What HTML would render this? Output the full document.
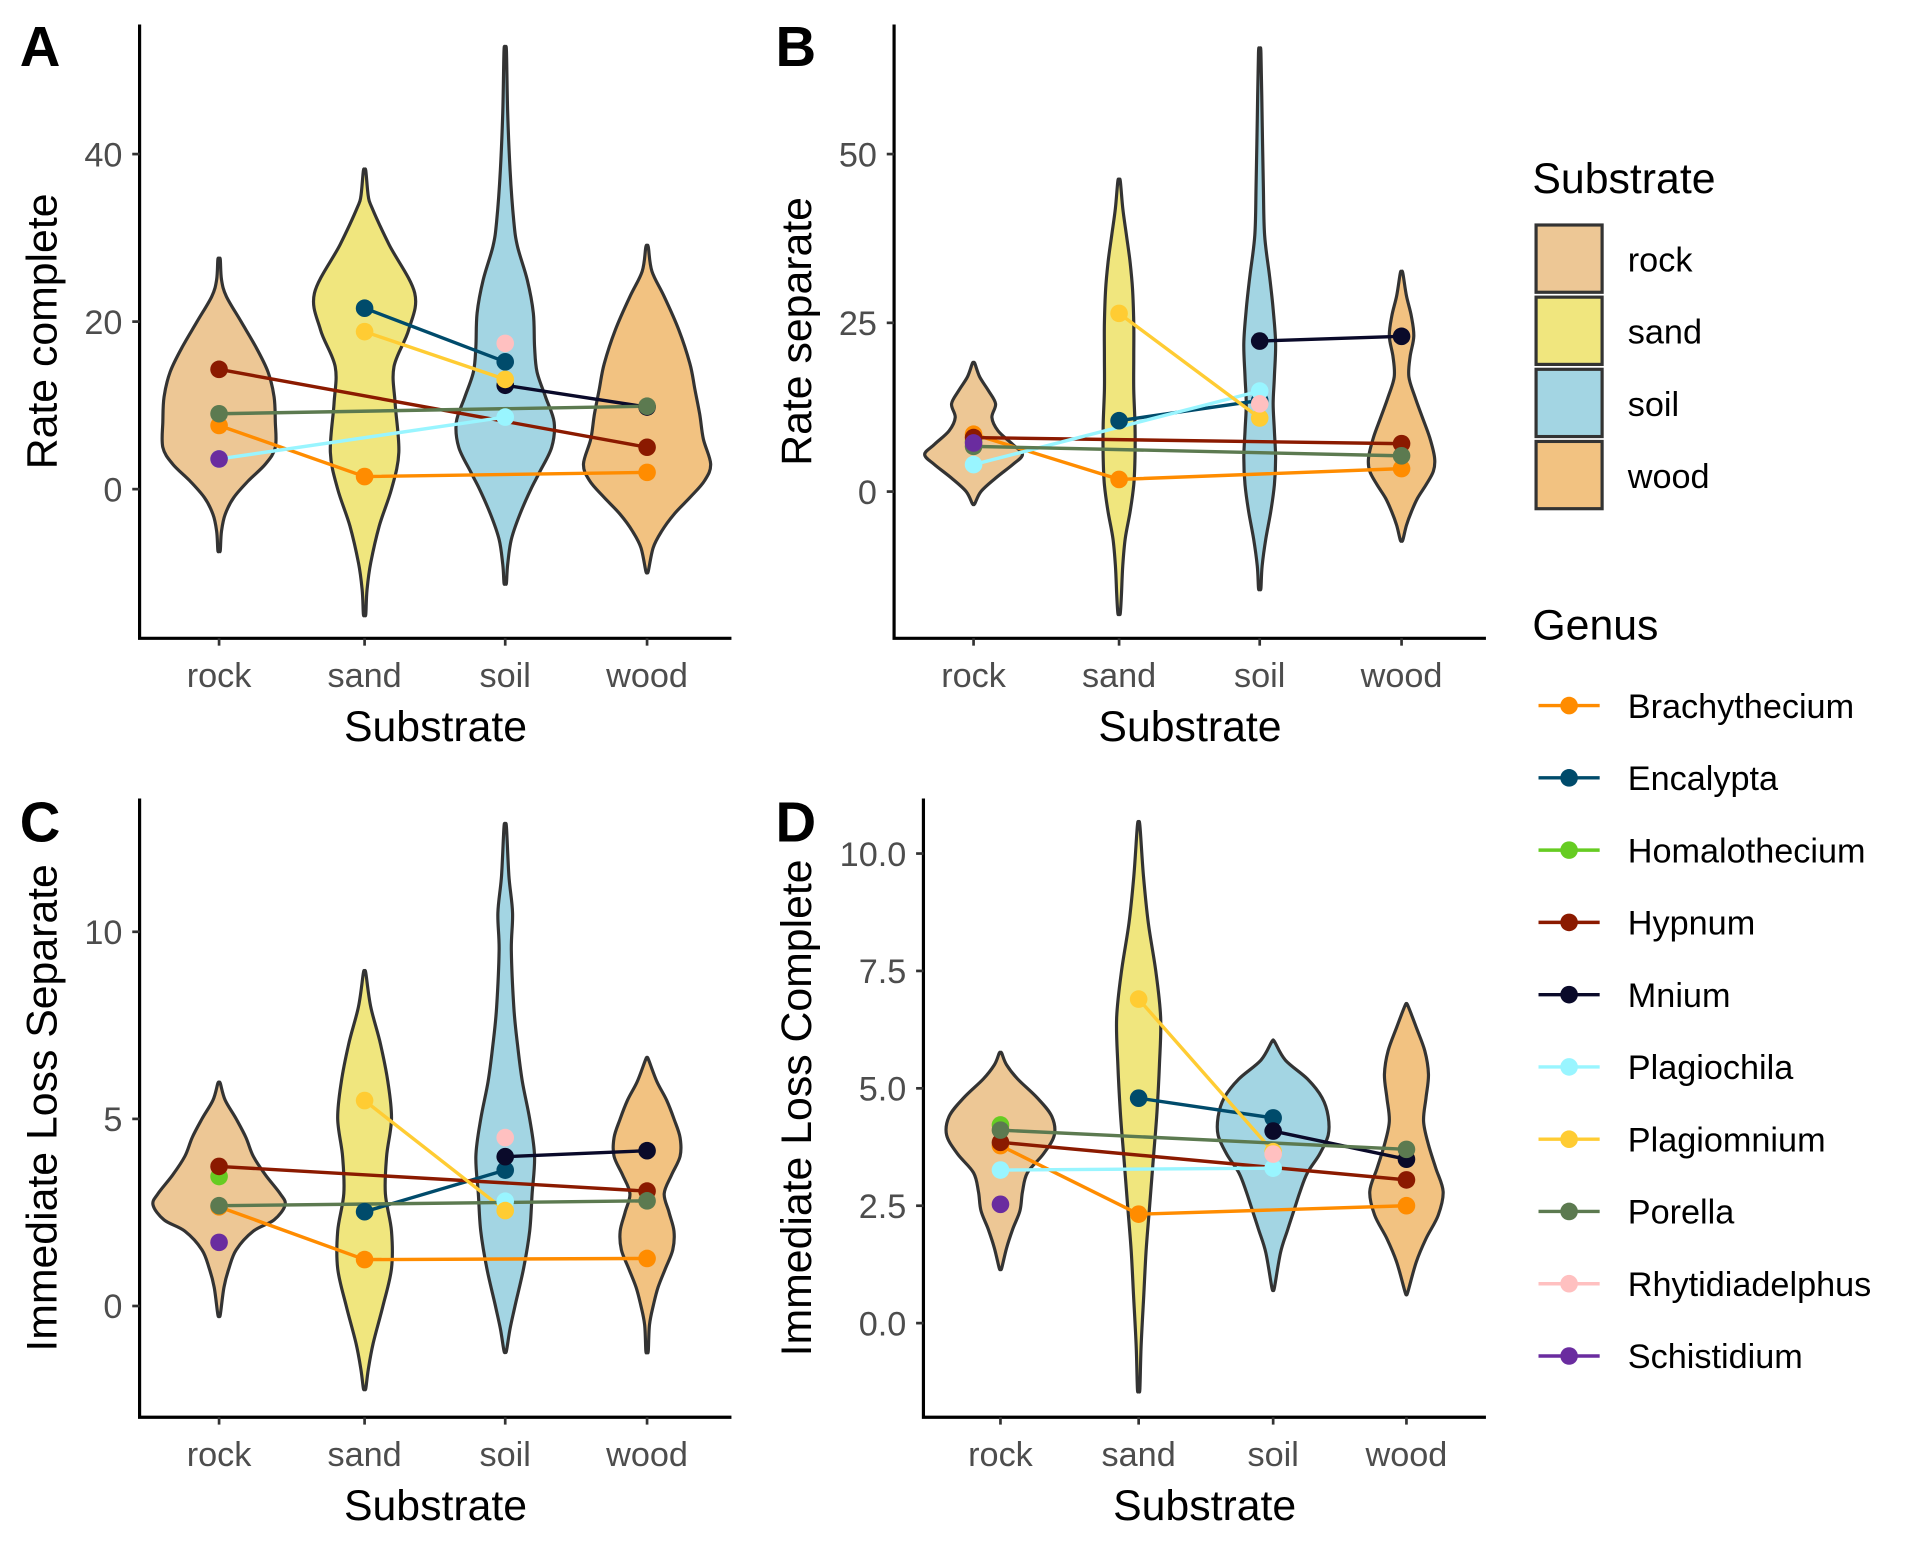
<!DOCTYPE html>
<html><head><meta charset="utf-8"><style>
html,body{margin:0;padding:0;background:#fff}
svg{display:block;font-family:"Liberation Sans",sans-serif}
</style></head><body>
<svg id="fig" width="1908" height="1542" viewBox="0 0 1560 1261" xmlns="http://www.w3.org/2000/svg">
<rect width="1560" height="1261" fill="#fff"/>
<g id="legend"></g>
</svg>
<script>
const substrates = ["rock","sand","soil","wood"];
const genera = ["Brachythecium","Encalypta","Homalothecium","Hypnum","Mnium","Plagiochila","Plagiomnium","Porella","Rhytidiadelphus","Schistidium"];
const genusColors = ["#FF8C00","#004B6B","#66CC22","#8B1A00","#0A0A2A","#99F5FF","#FFCC33","#5C7A50","#FFC0C0","#6A2C9F"];
const substrateFills = ["#EDC795","#F0E67E","#A3D5E3","#F2C281"];

// values per genus [rock, sand, soil, wood]
const rateComplete = [[7.6,1.5,null,2.0],[null,21.6,15.2,null],[null,null,null,null],[14.3,null,null,5.0],[null,null,12.4,9.8],[3.6,null,8.6,null],[null,18.8,13.1,null],[9.0,null,null,9.9],[null,null,17.4,null],[3.6,null,null,null]];
const rateSeparate = [[8.5,1.8,null,3.4],[null,10.5,13.5,null],[7.5,null,null,null],[8.0,null,null,7.1],[null,null,22.3,23.0],[4.0,null,14.9,null],[null,26.4,10.9,null],[6.7,null,null,5.3],[null,null,13.0,null],[7.2,null,null,null]];
const lossSeparate = [[2.65,1.24,null,1.27],[null,2.52,3.63,null],[3.46,null,null,null],[3.73,null,null,3.07],[null,null,3.99,4.15],[null,null,2.8,null],[null,5.49,2.55,null],[2.68,null,null,2.81],[null,null,4.5,null],[1.7,null,null,null]];
const lossComplete = [[3.78,2.32,null,2.5],[null,4.79,4.37,null],[4.22,null,null,null],[3.85,null,null,3.05],[null,null,4.09,3.49],[3.26,null,3.3,null],[null,6.9,3.65,null],[4.11,null,null,3.7],[null,null,3.6,null],[2.53,null,null,null]];

// violin density profiles [value, relative half width]
const violinsA = [
 [[27.4,1],[25,2],[23,6],[20,18],[17,30],[14,40],[11,45],[8,46],[5,46],[3,38],[1,24],[-1,12],[-3,5],[-5,2],[-7.3,1]],
 [[38,1],[35,3],[33.6,6],[29.2,20],[23.4,41],[19,36],[14.6,24],[10.2,25],[4.4,28],[0,22],[-4.4,12],[-8.8,5],[-12,2],[-14.9,1]],
 [[52.3,1],[45,2],[38,4],[32,7],[29,10],[25,18],[21,23],[17,24],[14,26],[11,33],[8,40],[5,38],[2,28],[0,21],[-3,12],[-6,5],[-9,2],[-11.2,1]],
 [[28.9,1],[26,4],[23,14],[19,26],[15,35],[12,39],[9,43],[6,46],[3,52],[1,47],[-1,35],[-3,22],[-5,12],[-7,5],[-9.8,1]]];
const violinsB = [
 [[19,1],[17,5],[15,12],[13,18],[11,15],[9,20],[7,32],[5.5,40],[4,32],[2,18],[0,6],[-1.8,1]],
 [[46,1],[42,3],[38,6],[34,9],[30,11],[25,12],[20,12],[15,12],[10,13],[5,13],[1,12],[-3,9],[-7,5],[-11,3],[-15,2],[-18,1]],
 [[65,1],[55,2],[45,3],[38,4],[32,8],[27,11],[22,13],[17,12],[13,11],[9,12],[5,13],[1,12],[-3,9],[-7,5],[-11,2],[-14.3,1]],
 [[32.4,1],[29,4],[26,8],[23,10],[20,7],[17,6],[14,11],[11,17],[8,23],[5,27],[3,26],[1,20],[-1,13],[-3,8],[-5,4],[-7.2,1]]];
const violinsC = [
 [[5.95,1],[5.5,5],[5,14],[4.5,22],[4,28],[3.5,38],[3,50],[2.7,54],[2.3,45],[2,28],[1.5,14],[1,8],[0.5,4],[-0.23,1]],
 [[8.9,1],[8,5],[7,13],[6,19],[5,22],[4,18],[3,17],[2,22],[1,22],[0,15],[-1,7],[-1.7,3],[-2.2,1]],
 [[12.8,1],[11.5,3],[10.5,6],[9.5,5],[8,7],[7,10],[6,14],[5,20],[4,24],[3,22],[2,20],[1,15],[0,8],[-0.6,4],[-1.2,1]],
 [[6.6,1],[6,8],[5.5,16],[5,22],[4.5,27],[4,27],[3.5,20],[3,14],[2.5,18],[2,22],[1.5,21],[1,15],[0.5,9],[0,5],[-0.5,2],[-1.2,1]]];
const violinsD = [
 [[5.75,1],[5.5,5],[5.2,14],[4.8,30],[4.4,42],[4.0,44],[3.6,35],[3.2,22],[2.8,18],[2.4,16],[2.0,10],[1.6,5],[1.17,1]],
 [[10.6,1],[9.5,4],[8.5,8],[7.5,14],[6.5,18],[5.5,17],[4.5,15],[3.5,12],[2.5,9],[1.5,6],[0.5,4],[-0.5,2],[-1.4,1]],
 [[6.0,1],[5.6,10],[5.2,28],[4.8,40],[4.4,45],[4.0,45],[3.6,38],[3.2,28],[2.8,22],[2.4,17],[2.0,12],[1.5,6],[0.75,1]],
 [[6.77,1],[6.3,8],[5.8,15],[5.3,18],[4.8,16],[4.3,14],[3.8,18],[3.3,24],[2.8,30],[2.3,26],[1.8,16],[1.3,8],[0.65,1]]];

const ticksA = ["0","20","40"], tickValsA=[0,20,40];
const ticksB = ["0","25","50"], tickValsB=[0,25,50];
const ticksC = ["0","5","10"], tickValsC=[0,5,10];
const ticksD = ["0.0","2.5","5.0","7.5","10.0"], tickValsD=[0,2.5,5,7.5,10];

const NS="http://www.w3.org/2000/svg";
const svg=document.getElementById('fig');
function mk(tag,attrs,parent,text){const e=document.createElementNS(NS,tag);for(const k in attrs)e.setAttribute(k,attrs[k]);if(text!==undefined)e.textContent=text;(parent||svg).appendChild(e);return e;}

function smoothPath(pts){let d="M"+pts[0][0]+","+pts[0][1];for(let i=0;i<pts.length-1;i++){const p0=pts[Math.max(i-1,0)],p1=pts[i],p2=pts[i+1],p3=pts[Math.min(i+2,pts.length-1)];const c1=[p1[0]+(p2[0]-p0[0])/6,p1[1]+(p2[1]-p0[1])/6],c2=[p2[0]-(p3[0]-p1[0])/6,p2[1]-(p3[1]-p1[1])/6];d+=" C"+c1[0].toFixed(1)+","+c1[1].toFixed(1)+" "+c2[0].toFixed(1)+","+c2[1].toFixed(1)+" "+p2[0].toFixed(1)+","+p2[1].toFixed(1);}return d;}

function panel(cfg){
 const g=mk('g',{});
 
 
 const y=v=>cfg.y0-(v-cfg.v0)*cfg.ppu;
 const x=i=>cfg.cats[i];
 cfg.violins.forEach((prof,i)=>{
  const right=prof.map(p=>[x(i)+p[1]*cfg.wscale,y(p[0])]);
  const left=prof.slice().reverse().map(p=>[x(i)-p[1]*cfg.wscale,y(p[0])]);
  const top=[x(i),y(prof[0][0])], bot=[x(i),y(prof[prof.length-1][0])];
  const d=smoothPath([top,...right,bot])+" L"+smoothPath([bot,...left,top]).slice(1)+"Z";
  const v=mk('path',{d:d,fill:substrateFills[i],stroke:"#333",'stroke-width':2.6,'stroke-linejoin':'round'},g);
  
  
 });
 cfg.data.forEach((row,gi)=>{
  const pts=[];row.forEach((v,si)=>{if(v!==null)pts.push([x(si),y(v)]);});
  if(pts.length>1){const l=mk('polyline',{points:pts.map(p=>p.join(',')).join(' '),fill:'none',stroke:genusColors[gi],'stroke-width':2.8},g);
   
   }
 });
 cfg.data.forEach((row,gi)=>{row.forEach((v,si)=>{if(v===null)return;
  const c=mk('circle',{cx:x(si),cy:y(v),r:7.2,fill:genusColors[gi]},g);
  
  });});
 const ax=mk('path',{d:`M${cfg.ax},${cfg.top} V${cfg.bottom} H${cfg.right}`,fill:'none',stroke:'#000','stroke-width':2.6},g);
 
 
 cfg.tickVals.forEach((tv,i)=>{
  mk('line',{x1:cfg.ax-6,x2:cfg.ax,y1:y(tv),y2:y(tv),stroke:'#333','stroke-width':2.2},g);
  const t=mk('text',{x:cfg.ax-14,y:y(tv)+10,'text-anchor':'end','font-size':28,fill:'#4d4d4d'},g,cfg.ticks[i]);
  
  
 });
 substrates.forEach((s,i)=>{
  mk('line',{x1:x(i),x2:x(i),y1:cfg.bottom,y2:cfg.bottom+6,stroke:'#333','stroke-width':2.2},g);
  const t=mk('text',{x:x(i),y:cfg.bottom+40,'text-anchor':'middle','font-size':28,fill:'#4d4d4d'},g,s);
  
  
 });
 const xt=mk('text',{x:(cfg.ax+cfg.right)/2,y:cfg.bottom+84,'text-anchor':'middle','font-size':35,fill:'#000'},g,'Substrate');
 
 
 const yt=mk('text',{x:0,y:0,transform:`translate(${cfg.ytx},${(cfg.top+cfg.bottom)/2}) rotate(-90)`,'text-anchor':'middle','font-size':35,fill:'#000'},g,cfg.ytitle);
 
 
 const lt=mk('text',{x:cfg.lx,y:cfg.ly,'font-size':46,'font-weight':'bold',fill:'#000'},g,cfg.letter);
 
 
}

panel({letter:'A',ax:114,top:20,bottom:522,right:598,cats:[179,298,413,529],y0:400,v0:0,ppu:6.85,violins:violinsA,wscale:1,data:rateComplete,ticks:ticksA,tickVals:tickValsA,ytitle:'Rate complete',ytx:46,lx:16,ly:54});
panel({letter:'B',ax:731,top:20,bottom:522,right:1215,cats:[796,915,1030,1146],y0:402,v0:0,ppu:5.52,violins:violinsB,wscale:1,data:rateSeparate,ticks:ticksB,tickVals:tickValsB,ytitle:'Rate separate',ytx:663,lx:634,ly:54});
panel({letter:'C',ax:114,top:653,bottom:1159,right:598,cats:[179,298,413,529],y0:1068,v0:0,ppu:30.6,violins:violinsC,wscale:1,data:lossSeparate,ticks:ticksC,tickVals:tickValsC,ytitle:'Immediate Loss Separate',ytx:46,lx:16,ly:688});
panel({letter:'D',ax:755,top:653,bottom:1159,right:1215,cats:[818,931,1041,1150],y0:1082,v0:0,ppu:38.4,violins:violinsD,wscale:1,data:lossComplete,ticks:ticksD,tickVals:tickValsD,ytitle:'Immediate Loss Complete',ytx:663,lx:634,ly:688});

const lg=document.getElementById('legend');
svg.appendChild(lg);
const st=mk('text',{x:1253,y:158,'font-size':35,fill:'#000'},lg,'Substrate');


substrates.forEach((s,i)=>{
 const yy=184+i*59;
 const r=mk('rect',{x:1256,y:yy,width:54,height:55,fill:substrateFills[i],stroke:'#333','stroke-width':2.6},lg);
 
 
 const t=mk('text',{x:1331,y:yy+38,'font-size':28,fill:'#000'},lg,s);
 
 
});
const gt=mk('text',{x:1253,y:523,'font-size':35,fill:'#000'},lg,'Genus');


genera.forEach((gname,i)=>{
 const yy=577+i*59.1;
 mk('line',{x1:1258,x2:1308,y1:yy,y2:yy,stroke:genusColors[i],'stroke-width':2.8},lg);
 const c=mk('circle',{cx:1283,cy:yy,r:7.2,fill:genusColors[i]},lg);
 
 
 const t=mk('text',{x:1331,y:yy+10,'font-size':28,fill:'#000'},lg,gname);
 
 
});
</script>
</body></html>
